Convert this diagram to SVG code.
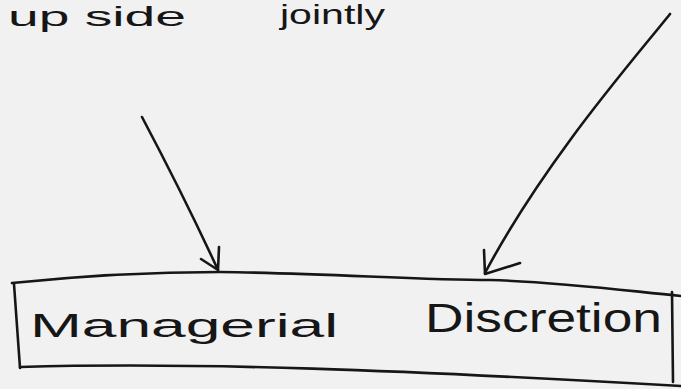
<svg xmlns="http://www.w3.org/2000/svg" width="681" height="389" viewBox="0 0 681 389">
<style>
.ink{fill:none;stroke:#161616;stroke-width:2.6;stroke-linecap:round;stroke-linejoin:round}
.txt{font-family:"Liberation Sans",Arial,sans-serif;fill:#161616}
</style>
<rect width="681" height="389" fill="#f1f1f2"/>
<g id="top-text">
<text class="txt" x="8" y="26" font-size="28" textLength="178" lengthAdjust="spacingAndGlyphs">up side</text>
<text class="txt" x="280" y="24" font-size="28" textLength="105" lengthAdjust="spacingAndGlyphs">jointly</text>
</g>
<g id="node-box">
<path class="ink" d="M12,283 C80,276 160,272 220,272 C320,273 420,280 490,280 C560,282 620,290 681,296"/>
<path class="ink" d="M14,284 L20,368"/>
<path class="ink" d="M20,367 C200,362 400,370 681,386"/>
<path class="ink" d="M672,292 L673,382"/>
<text class="txt" x="30" y="337" font-size="34" textLength="308" lengthAdjust="spacingAndGlyphs">Managerial</text>
<text class="txt" x="425" y="332" font-size="40" textLength="237" lengthAdjust="spacingAndGlyphs">Discretion</text>
</g>
<g id="connectors">
<path class="ink" d="M142,117 C170,170 195,220 218,270"/>
<path class="ink" d="M219,247 L218,270 M201,259 L218,270"/>
<path class="ink" d="M670,14 C635,58 545,160 485,273"/>
<path class="ink" d="M484,250 L485,274 L520,263"/>
</g>
</svg>
